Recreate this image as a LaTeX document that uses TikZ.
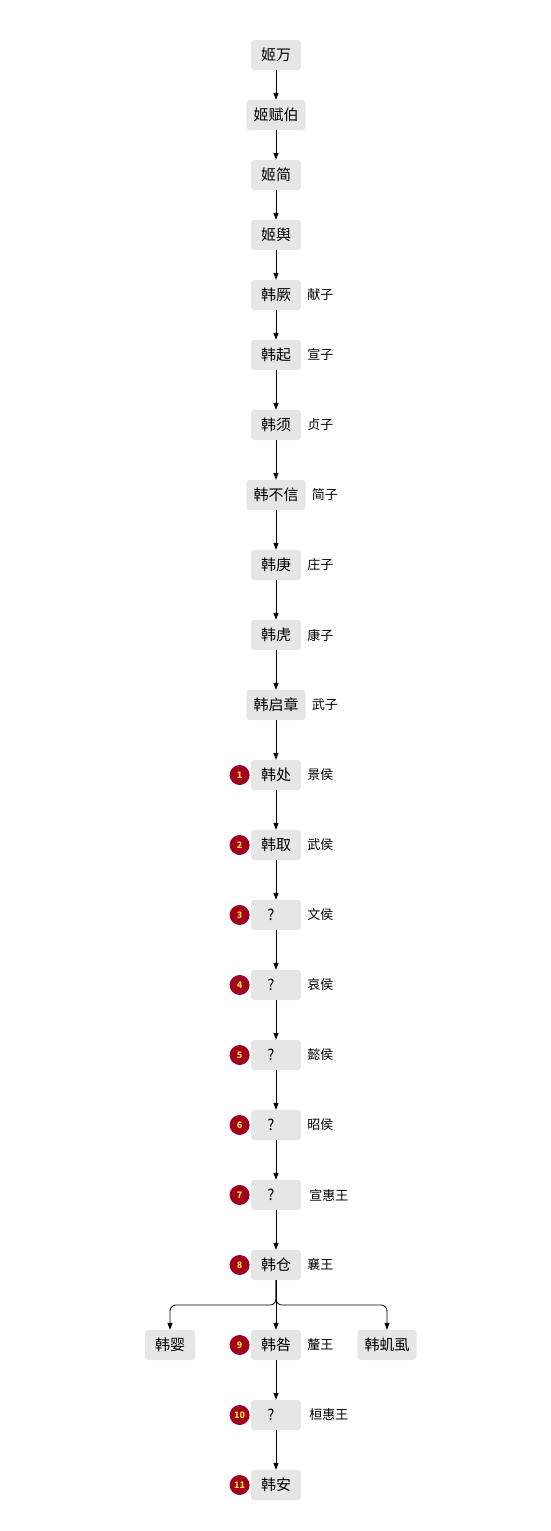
\documentclass[tikz,border=0pt]{standalone}
\usepackage{fontspec}
\setmainfont{Noto Sans CJK SC}
\usepackage{xcolor}
\usepackage{tikz}
\usetikzlibrary{arrows.meta,positioning}
\definecolor{boxGray}{HTML}{E6E6E6}
\definecolor{badgeRed}{HTML}{A0001E}
\definecolor{badgeYellow}{HTML}{FFE21F}
\newcommand{\unk}{?\kern10pt\relax}

\begin{document}
\begin{tikzpicture}[x=1pt,y=-1pt,>={Triangle[length=7pt,width=5pt]},
  person/.style={fill=boxGray,rounded corners=3pt,minimum width=50pt,
    minimum height=30pt,inner xsep=7pt,font=\fontsize{15}{15}\selectfont},
  posthum/.style={font=\fontsize{13}{13}\selectfont,inner sep=0pt,right=6pt of #1},
  badge/.style={circle,fill=badgeRed,minimum size=20pt,inner sep=0pt,
    text=badgeYellow,font=\fontsize{9}{9}\selectfont\bfseries,left=1pt of #1},
  link/.style={->,line width=0.8pt}]
  \useasboundingbox (0,0) rectangle (551,1531);
  % ancestors
  \node[person] (jiwan)    at (276,55)  {姬万};
  \node[person] (jifubo)   at (276,115) {姬赋伯};
  \node[person] (jijian)   at (276,175) {姬简};
  \node[person] (jiyu)     at (276,235) {姬舆};
  % ministers of Jin
  \node[person] (hanjue)   at (276,295) {韩厥};
  \node[person] (hanqi)    at (276,355) {韩起};
  \node[person] (hanxu)    at (276,425) {韩须};
  \node[person] (hanbuxin) at (276,495) {韩不信};
  \node[person] (hangeng)  at (276,565) {韩庚};
  \node[person] (hanhu)    at (276,635) {韩虎};
  \node[person] (hanqizh)  at (276,705) {韩启章};
  % rulers of Han
  \node[person] (hanchu)   at (276,775)  {韩处};
  \node[person] (hanqu)    at (276,845)  {韩取};
  \node[person] (wenhou)   at (276,915)  {\unk};
  \node[person] (aihou)    at (276,985)  {\unk};
  \node[person] (yihou)    at (276,1055) {\unk};
  \node[person] (zhaohou)  at (276,1125) {\unk};
  \node[person] (xuanhui)  at (276,1195) {\unk};
  \node[person] (hancang)  at (276,1265) {韩仓};
  \node[person] (hanying)  at (170,1345) {韩婴};
  \node[person] (hanjiu)   at (276,1345) {韩咎};
  \node[person] (hanjishi) at (387,1345) {韩虮虱};
  \node[person] (huanhui)  at (276,1415) {\unk};
  \node[person] (hanan)    at (276,1485) {韩安};

  \node[posthum=hanjue]   (t1)  {献子};
  \node[posthum=hanqi]    (t2)  {宣子};
  \node[posthum=hanxu]    (t3)  {贞子};
  \node[posthum=hanbuxin] (t4)  {简子};
  \node[posthum=hangeng]  (t5)  {庄子};
  \node[posthum=hanhu]    (t6)  {康子};
  \node[posthum=hanqizh]  (t7)  {武子};
  \node[posthum=hanchu]   (t8)  {景侯};
  \node[posthum=hanqu]    (t9)  {武侯};
  \node[posthum=wenhou]   (t10) {文侯};
  \node[posthum=aihou]    (t11) {哀侯};
  \node[posthum=yihou]    (t12) {懿侯};
  \node[posthum=zhaohou]  (t13) {昭侯};
  \node[posthum=xuanhui,xshift=2pt]  (t14) {宣惠王};
  \node[posthum=hancang]  (t15) {襄王};
  \node[posthum=hanjiu]   (t16) {釐王};
  \node[posthum=huanhui,xshift=2pt]  (t17) {桓惠王};

  \node[badge=hanchu]  (n1)  {1};
  \node[badge=hanqu]   (n2)  {2};
  \node[badge=wenhou]  (n3)  {3};
  \node[badge=aihou]   (n4)  {4};
  \node[badge=yihou]   (n5)  {5};
  \node[badge=zhaohou] (n6)  {6};
  \node[badge=xuanhui] (n7)  {7};
  \node[badge=hancang] (n8)  {8};
  \node[badge=hanjiu]  (n9)  {9};
  \node[badge=huanhui] (n10) {10};
  \node[badge=hanan]   (n11) {11};

  \draw[link] (jiwan) -- (jifubo);
  \draw[link] (jifubo) -- (jijian);
  \draw[link] (jijian) -- (jiyu);
  \draw[link] (jiyu) -- (hanjue);
  \draw[link] (hanjue) -- (hanqi);
  \draw[link] (hanqi) -- (hanxu);
  \draw[link] (hanxu) -- (hanbuxin);
  \draw[link] (hanbuxin) -- (hangeng);
  \draw[link] (hangeng) -- (hanhu);
  \draw[link] (hanhu) -- (hanqizh);
  \draw[link] (hanqizh) -- (hanchu);
  \draw[link] (hanchu) -- (hanqu);
  \draw[link] (hanqu) -- (wenhou);
  \draw[link] (wenhou) -- (aihou);
  \draw[link] (aihou) -- (yihou);
  \draw[link] (yihou) -- (zhaohou);
  \draw[link] (zhaohou) -- (xuanhui);
  \draw[link] (xuanhui) -- (hancang);
  % the fork below Han Cang
  \coordinate (fork) at (276,1305);
  \draw[link] (hancang) -- (hanjiu);
  \draw[link,rounded corners=6pt] (hancang.south) |- (fork -| hanying) -- (hanying.north);
  \draw[link,rounded corners=6pt] (hancang.south) |- (fork -| hanjishi) -- (hanjishi.north);
  \draw[link] (hanjiu) -- (huanhui);
  \draw[link] (huanhui) -- (hanan);
\end{tikzpicture}
\end{document}
